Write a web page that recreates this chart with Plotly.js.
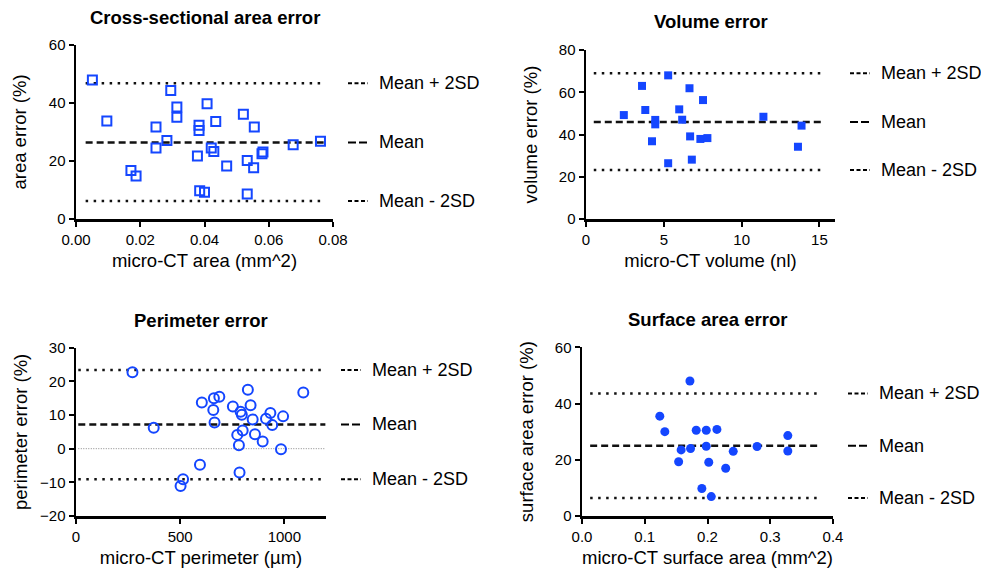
<!DOCTYPE html>
<html>
<head>
<meta charset="utf-8">
<script src="https://cdn.plot.ly/plotly-3.0.1.min.js"></script>
<style>html,body{margin:0;padding:0;background:#fff;}#chart{width:981px;height:575px;}</style>
</head>
<body>
<div id="chart"></div>
<script>
// ---- Data ----
const titles = ["Cross-sectional area error", "Volume error", "Perimeter error", "Surface area error"];
const xTitles = ["micro-CT area (mm^2)", "micro-CT volume (nl)", "micro-CT perimeter (µm)", "micro-CT surface area (mm^2)"];
const yTitles = ["area error (%)", "volume error (%)", "perimeter error (%)", "surface area error (%)"];
const legendLabels = ["Mean + 2SD", "Mean", "Mean - 2SD"];

// Cross-sectional area
const areaX = [0.0051,0.0096,0.0295,0.0314,0.0314,0.0249,0.0249,0.0283,0.0171,0.0187,0.0383,0.0383,0.0378,0.0408,0.0435,0.0421,0.0429,0.0469,0.0385,0.0400,0.0521,0.0555,0.0533,0.0553,0.0533,0.0579,0.0582,0.0676,0.0761];
const areaY = [47.9,33.8,44.3,35.1,38.6,31.7,24.5,27.1,16.7,14.8,32.3,30.5,21.7,39.7,33.6,24.5,23.3,18.3,9.7,9.2,36.1,31.7,20.2,17.7,8.6,22.5,23.1,25.6,26.8];
const areaLimits = [46.8, 26.4, 6.2];   // mean+2SD, mean, mean-2SD
const areaLineX = [0.003, 0.0775];

// Volume
const volX = [2.43,3.60,3.81,4.24,4.45,4.45,5.28,5.28,5.99,6.18,6.65,6.69,6.80,7.35,7.52,7.80,11.40,13.62,13.85];
const volY = [49.2,63.0,51.6,36.8,46.9,44.8,68.0,26.4,51.9,47.0,61.9,39.1,28.1,37.9,56.3,38.3,48.4,34.2,44.2];
const volLimits = [69.0, 45.9, 23.2];
const volLineX = [0.5, 15.1];

// Perimeter
const perX = [271,373,514,502,595,604,659,662,688,665,753,774,782,785,790,796,800,825,838,848,859,896,912,933,942,994,984,1091];
const perY = [22.7,6.2,-9.1,-11.1,-4.8,13.7,11.5,15.0,15.4,7.8,12.5,4.1,1.0,-7.1,11.0,10.1,5.4,17.5,12.9,8.7,4.3,2.1,8.9,10.6,7.0,9.6,-0.2,16.7];
const perLimits = [23.4, 7.2, -9.1];
const perLineX = [11, 1197];
const perZero = [0, 0];

// Surface area
const surfX = [0.124,0.132,0.154,0.158,0.172,0.173,0.182,0.191,0.198,0.198,0.202,0.206,0.215,0.229,0.241,0.279,0.328,0.328];
const surfY = [35.5,30.0,19.3,23.5,48.0,24.0,30.5,9.8,30.5,24.8,19.1,6.9,30.8,17.0,23.0,24.7,28.6,23.1];
const surfLimits = [43.6, 25.0, 6.4];
const surfLineX = [0.013, 0.379];

// ---- Styling / layout ----
const W = 981, H = 575;
const BLUE = '#1446ff';
const FONT = 'Liberation Sans, Arial, Helvetica, sans-serif';
const DOT = '2.5px,5.5px';
const DASH = '7px,4px';

const panels = [
  {x: areaX, y: areaY, lim: areaLimits, lx: areaLineX, sym: 'square-open', size: 9, px: [76,333], py: [45,219],
   xr: [0,0.08], yr: [0,60], dx: 0.02, dy: 20, xf: '.2f', legX: [348,368,377], ys: 18, ty: 17},
  {x: volX, y: volY, lim: volLimits, lx: volLineX, sym: 'square', size: 8, px: [586,835], py: [50,219],
   xr: [0,16], yr: [0,80], dx: 5, dy: 20, xf: '', legX: [850,870,879], ys: 17, ty: 22},
  {x: perX, y: perY, lim: perLimits, lx: perLineX, sym: 'circle-open', size: 10, px: [76,326], py: [347.7,516],
   xr: [0,1200], yr: [-20,30], dx: 500, dy: 10, xf: '', legX: [341,361,370], ys: 8, ty: 320},
  {x: surfX, y: surfY, lim: surfLimits, lx: surfLineX, sym: 'circle', size: 9, px: [582,833], py: [347.3,516],
   xr: [0,0.4], yr: [0,60], dx: 0.1, dy: 20, xf: '.1f', legX: [848,868,877], ys: 17, ty: 319}
];

const traces = [];
const layout = {
  width: W, height: H,
  margin: {l:0, r:0, t:0, b:0},
  paper_bgcolor: '#fff', plot_bgcolor: '#fff',
  showlegend: false,
  font: {family: FONT, color: '#000', size: 15},
  annotations: [], shapes: []
};

panels.forEach((p, i) => {
  const n = i + 1;
  const xa = 'x' + (n === 1 ? '' : n), ya = 'y' + (n === 1 ? '' : n);
  const xk = 'xaxis' + (n === 1 ? '' : n), yk = 'yaxis' + (n === 1 ? '' : n);
  const dashes = [DOT, DASH, DOT];
  // limit lines
  p.lim.forEach((v, k) => {
    traces.push({x: p.lx, y: [v, v], xaxis: xa, yaxis: ya, mode: 'lines', hoverinfo: 'skip',
      line: {color: '#111', width: 2.5, dash: dashes[k]}, cliponaxis: false});
  });
  if (n === 3) {
    traces.push({x: perLineX, y: perZero, xaxis: xa, yaxis: ya, mode: 'lines', hoverinfo: 'skip',
      line: {color: '#888', width: 1, dash: '1px,1.5px'}});
  }
  // data
  const open = p.sym.indexOf('open') >= 0;
  traces.push({x: p.x, y: p.y, xaxis: xa, yaxis: ya, mode: 'markers', cliponaxis: false,
    marker: {symbol: p.sym, size: p.size, color: BLUE, line: {color: BLUE, width: open ? 2 : 0}}});

  const common = {showgrid: false, zeroline: false, showline: true, linecolor: '#000', linewidth: 2.5,
    ticks: 'outside', ticklen: 5, tickwidth: 2, tickcolor: '#000', tickfont: {family: FONT, size: 15, color: '#000'},
    fixedrange: true, automargin: false};
  layout[xk] = Object.assign({}, common, {domain: [p.px[0]/W, p.px[1]/W], range: p.xr, dtick: p.dx, tick0: 0,
    tickformat: p.xf, anchor: ya, title: {text: xTitles[i], font: {family: FONT, size: 18.5}, standoff: 8}});
  layout[yk] = Object.assign({}, common, {domain: [1 - p.py[1]/H, 1 - p.py[0]/H], range: p.yr, dtick: p.dy, tick0: 0,
    anchor: xa, title: {text: yTitles[i], font: {family: FONT, size: 18.5}, standoff: p.ys}});

  // subplot title
  layout.annotations.push({text: '<b>' + titles[i] + '</b>', xref: 'paper', yref: 'paper',
    x: (p.px[0] + p.px[1]) / 2 / W, y: 1 - p.ty / H,
    xanchor: 'center', yanchor: 'middle', showarrow: false, font: {family: FONT, size: 18.5, color: '#000'}});
  // legend labels & samples
  p.lim.forEach((v, k) => {
    layout.annotations.push({text: legendLabels[k], xref: 'paper', yref: ya, x: p.legX[2]/W, y: v,
      xanchor: 'left', yanchor: 'middle', showarrow: false, font: {family: FONT, size: 18, color: '#000'}});
    layout.shapes.push({type: 'line', xref: 'paper', yref: ya, x0: p.legX[0]/W, x1: p.legX[1]/W, y0: v, y1: v,
      line: {color: '#000', width: 2, dash: k === 1 ? '8px,3px' : '4px,2.5px'}});
  });
});

Plotly.newPlot('chart', traces, layout, {displayModeBar: false, staticPlot: true});
</script>
</body>
</html>
